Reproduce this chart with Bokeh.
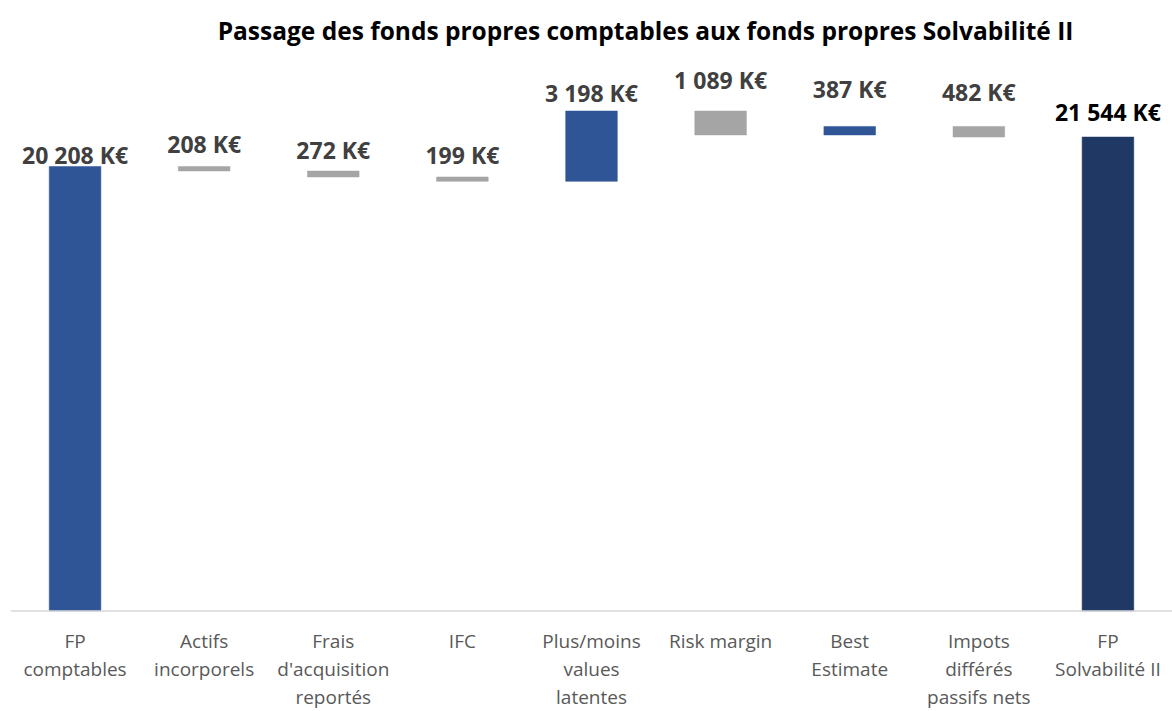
from bokeh.plotting import figure
from bokeh.models import ColumnDataSource, Range1d, FactorRange, Span
from bokeh.core.properties import value
from bokeh.embed import file_html
from bokeh.resources import INLINE

# ---- data ----
categories = ["FP comptables", "Actifs incorporels", "Frais d'acquisition reportés", "IFC",
              "Plus/moins values latentes", "Risk margin", "Best Estimate",
              "Impots différés passifs nets", "FP Solvabilité II"]
tick_lines = [["FP", "comptables"], ["Actifs", "incorporels"], ["Frais", "d'acquisition", "reportés"],
              ["IFC"], ["Plus/moins", "values", "latentes"], ["Risk margin"], ["Best", "Estimate"],
              ["Impots", "différés", "passifs nets"], ["FP", "Solvabilité II"]]
start_value = 20208
changes = [-208, -272, -199, 3198, -1089, 387, -482]
end_value = 21544
title_text = "Passage des fonds propres comptables aux fonds propres Solvabilité II"

# ---- styles ----
BLUE = "#2F5597"
GREY = "#A5A5A5"
NAVY = "#203864"
label_offsets = [11, 22, 21.5, 21.5, 18.5, 31, 37, 34, 25]

def fmt(v):
    return f"{abs(v):,}".replace(",", " ") + " K€"

bottoms, tops, colors, texts = [], [], [], []
bottoms.append(0); tops.append(start_value); colors.append(BLUE); texts.append(fmt(start_value))
cum = start_value
for d in changes:
    new = cum + d
    bottoms.append(min(cum, new)); tops.append(max(cum, new))
    colors.append(BLUE if d > 0 else GREY)
    texts.append(fmt(d))
    cum = new
bottoms.append(0); tops.append(end_value); colors.append(NAVY); texts.append(fmt(end_value))
label_colors = ["#404040"] * (len(categories) - 1) + ["#000000"]

src = ColumnDataSource(dict(x=categories, bottom=bottoms, top=tops, color=colors,
                            text=texts, off=[-o for o in label_offsets], tcolor=label_colors))

px_per_k = 0.0220
y_start = -100.5 / px_per_k
y_end = 610.5 / px_per_k

p = figure(width=1172, height=711, x_range=FactorRange(*categories),
           y_range=Range1d(y_start, y_end), output_backend="svg", toolbar_location=None,
           min_border=0, min_border_left=10, min_border_right=0, min_border_top=0, min_border_bottom=0)
p.xaxis.visible = False
p.yaxis.visible = False
p.grid.visible = False
p.outline_line_color = None
p.background_fill_color = "white"

p.vbar(x="x", bottom="bottom", top="top", width=0.4, fill_color="color",
       line_color="color", line_width=0.5, source=src)

p.add_layout(Span(location=0, dimension="width", line_color="#D9D9D9", line_width=1.5))

p.text(x="x", y="top", text="text", y_offset="off", text_color="tcolor",
       text_font=value("Open Sans"), text_font_style="bold", text_font_size="23px",
       text_align="center", text_baseline="middle", source=src)

# category labels (multi-line)
lx, lt, loff = [], [], []
for c, lines in zip(categories, tick_lines):
    for i, t in enumerate(lines):
        lx.append(c); lt.append(t); loff.append(30 + 28 * i)
lsrc = ColumnDataSource(dict(x=lx, text=lt, off=loff, y=[0] * len(lx)))
p.text(x="x", y="y", text="text", y_offset="off", text_color="#595959",
       text_font=value("Open Sans"), text_font_size="19px",
       text_align="center", text_baseline="middle", source=lsrc)

# title
p.text(x=[categories[4]], y=[y_end], text=[title_text], x_offset=54, y_offset=30,
       text_color="#000000", text_font=value("Open Sans"), text_font_style="bold",
       text_font_size="24.5px", text_align="center", text_baseline="middle")

open("out.html", "w").write(file_html(p, INLINE))
